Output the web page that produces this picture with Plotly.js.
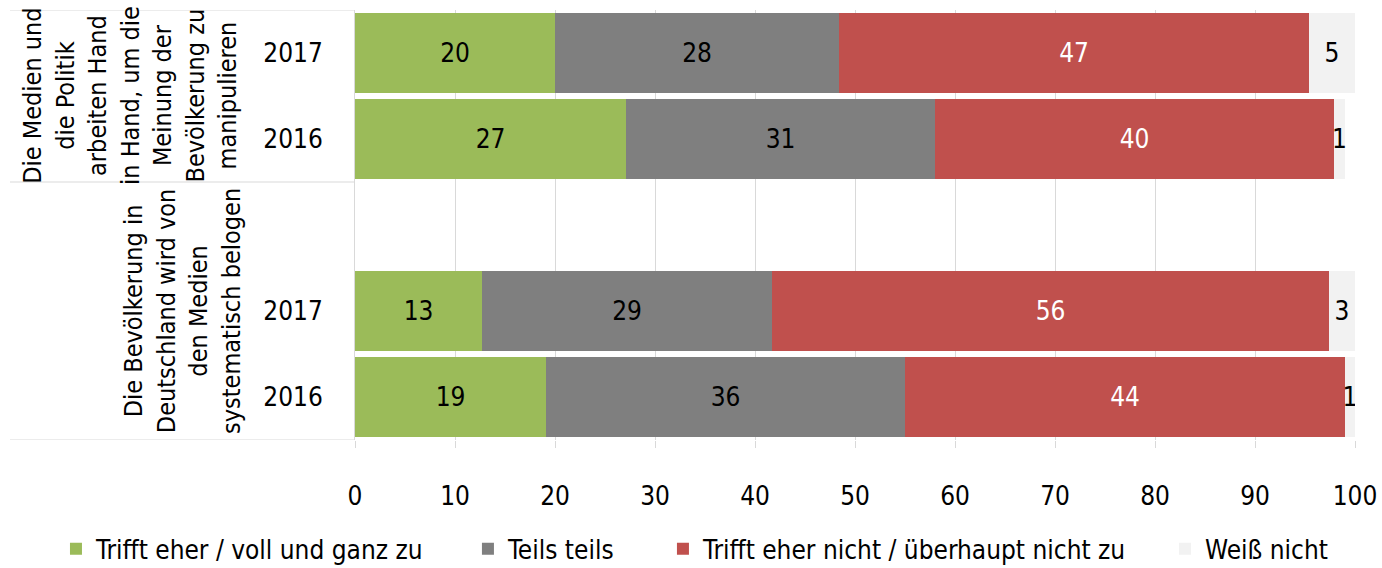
<!DOCTYPE html>
<html>
<head>
<meta charset="utf-8">
<script src="https://cdn.plot.ly/plotly-3.0.1.min.js"></script>
<style>html,body{margin:0;padding:0;background:#fff;}#chart{width:1382px;height:568px;}</style>
</head>
<body>
<div id="chart"></div>
<script>
// Row positions (slot 2 is an empty spacer between the two statements)
const rowPos = [0, 1, 3, 4];
const yearLabels = ["2017", "2016", "2017", "2016"];
const groupLabels = [
  "Die Medien und<br>die Politik<br>arbeiten Hand<br>in Hand, um die<br>Meinung der<br>Bevölkerung zu<br>manipulieren",
  "Die Bevölkerung in<br>Deutschland wird von<br>den Medien<br>systematisch belogen"
];
const seriesNames = ["Trifft eher / voll und ganz zu", "Teils teils", "Trifft eher nicht / überhaupt nicht zu", "Weiß nicht"];
const trifftZu      = [20.0, 27.1, 12.7, 19.1];
const teilsTeils    = [28.4, 30.9, 29.0, 35.9];
const trifftNichtZu = [47.0, 39.9, 55.7, 44.0];
const weissNicht    = [4.6, 1.1, 2.6, 1.0];
const xTicks = [0, 10, 20, 30, 40, 50, 60, 70, 80, 90, 100];

const FONT = "'Liberation Sans Narrow', 'Arial Narrow', 'DejaVu Sans Condensed', sans-serif";
const colors = ["#9BBB59", "#7F7F7F", "#C0504D", "#F2F2F2"];
const textColors = ["#000000", "#000000", "#FFFFFF", "#000000"];
const allSeries = [trifftZu, teilsTeils, trifftNichtZu, weissNicht];
const legendIds = ["legend", "legend2", "legend3", "legend4"];
const legendX = [0.0405, 0.3386, 0.4797, 0.8430];

const traces = allSeries.map((vals, i) => ({
  type: "bar",
  orientation: "h",
  name: seriesNames[i],
  x: vals,
  y: rowPos,
  marker: {color: colors[i], line: {width: 0}},
  texttemplate: "%{x:.0f}",
  textposition: "inside",
  insidetextanchor: "middle",
  textfont: {family: FONT, size: 26, color: textColors[i]},
  legend: legendIds[i],
  hoverinfo: "skip"
}));

const legendBase = {
  orientation: "h",
  xref: "container",
  yref: "container",
  y: 0.0335,
  yanchor: "middle",
  xanchor: "left",
  bgcolor: "rgba(0,0,0,0)",
  font: {family: FONT, size: 26, color: "#000"}
};

const layout = {
  width: 1382,
  height: 568,
  margin: {l: 355, r: 27, t: 10, b: 128},
  paper_bgcolor: "#fff",
  plot_bgcolor: "#fff",
  barmode: "stack",
  bargap: 0.07,
  font: {family: FONT, size: 26, color: "#000"},
  uniformtext: {minsize: 26, mode: "show"},
  showlegend: true,
  xaxis: {
    range: [0, 100],
    tickvals: xTicks,
    showgrid: true,
    gridcolor: "#D9D9D9",
    gridwidth: 1,
    zeroline: false,
    showline: false,
    ticks: "outside",
    ticklen: 7,
    tickcolor: "#D9D9D9",
    ticklabelstandoff: 26,
    tickfont: {family: FONT, size: 26, color: "#000"},
    automargin: false,
    fixedrange: true
  },
  yaxis: {
    range: [4.5, -0.5],
    tickvals: rowPos,
    ticktext: yearLabels,
    showgrid: false,
    zeroline: false,
    showline: true,
    linecolor: "#D9D9D9",
    linewidth: 1,
    ticks: "",
    ticklabelstandoff: 26,
    tickfont: {family: FONT, size: 26, color: "#000"},
    automargin: false,
    fixedrange: true
  },
  shapes: [-0.5, 1.5, 4.5].map(yv => ({
    type: "line", xref: "paper", yref: "y",
    x0: -0.345, x1: 0, y0: yv, y1: yv,
    line: {color: "#D9D9D9", width: 1}
  })),
  annotations: [
    {xref: "paper", yref: "y", x: -0.225, y: 0.5, text: groupLabels[0], textangle: -90,
     showarrow: false, align: "center", xanchor: "center", yanchor: "middle",
     font: {family: FONT, size: 25, color: "#000"}},
    {xref: "paper", yref: "y", x: -0.173, y: 3.0, text: groupLabels[1], textangle: -90,
     showarrow: false, align: "center", xanchor: "center", yanchor: "middle",
     font: {family: FONT, size: 25, color: "#000"}}
  ]
};
legendIds.forEach((id, i) => { layout[id] = Object.assign({}, legendBase, {x: legendX[i]}); });

Plotly.newPlot("chart", traces, layout, {displayModeBar: false, staticPlot: true});
</script>
</body>
</html>
